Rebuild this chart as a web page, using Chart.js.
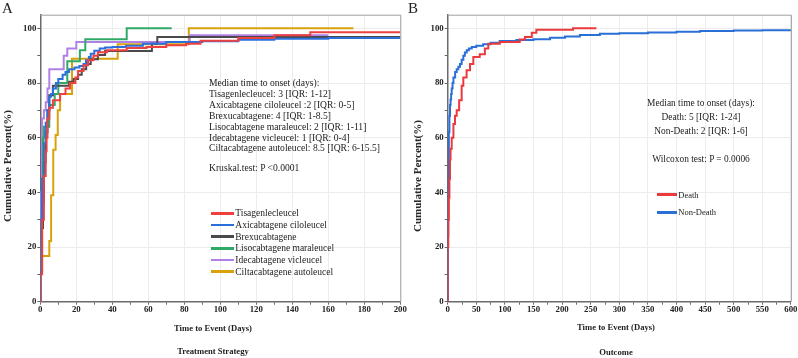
<!DOCTYPE html>
<html><head><meta charset="utf-8">
<script src="https://cdn.jsdelivr.net/npm/chart.js@4.4.1/dist/chart.umd.min.js"></script>
<style>
body{margin:0;width:798px;height:358px;background:#fff;position:relative;overflow:hidden;font-family:"Liberation Serif","Times New Roman",serif;color:#222}
.abs{position:absolute;white-space:nowrap}
canvas{position:absolute;top:0}
#cA{left:0}
#cB{left:400px}
.letter{font-size:15px;line-height:15px}
.ttl{font-weight:bold;font-size:8.6px;line-height:10px;transform:translateX(-50%)}
.ytl{font-weight:bold;font-size:11px;line-height:12px;transform:translate(-50%,-50%) rotate(-90deg)}
.legrow{position:absolute;white-space:nowrap;display:flex;align-items:center}
.legrow span.ln{display:inline-block;height:2.6px;margin-right:1px}
</style></head>
<body>
<canvas id="cA" width="410" height="358"></canvas>
<canvas id="cB" width="398" height="358"></canvas>
<div class="abs letter" style="left:2px;top:1px">A</div>
<div class="abs letter" style="left:408px;top:1px">B</div>
<div class="abs ytl" style="left:7px;top:166px">Cumulative Percent(%)</div>
<div class="abs ytl" style="left:417px;top:176px">Cumulative Percent(%)</div>
<div class="abs ttl" style="left:213px;top:323px">Time to Event (Days)</div>
<div class="abs ttl" style="left:213px;top:346px">Treatment Strategy</div>
<div class="abs ttl" style="left:616px;top:322px">Time to Event (Days)</div>
<div class="abs ttl" style="left:616px;top:347px">Outcome</div>
<div class="abs" id="annA" style="left:209px;top:78px;font-size:9.6px;line-height:10.9px"></div>
<div class="abs" id="annA2" style="left:209px;top:163px;font-size:9.6px;line-height:10.9px"></div>
<div class="abs" id="annB" style="left:701px;top:95.7px;font-size:9.4px;line-height:14px;text-align:center;transform:translateX(-50%)"></div>
<div id="legA"></div>
<div id="legB"></div>
<script>
// ---------- Panel A data (days, cumulative %) ----------
const seriesNamesA = ["Tisagenlecleucel","Axicabtagene ciloleucel","Brexucabtagene","Lisocabtagene maraleucel","Idecabtagene vicleucel","Ciltacabtagene autoleucel"];
const colorsA = ["#ef4040","#2a6fdc","#4a4a4a","#2faa66","#b080e6","#d9a10c"];

const tisaDays = [0,0,1,2,3,3.5,4,5,7,11,14,16.5,19.5,21,24,26.5,29.5,32,37,48,59,70,81,89,110,130,150,200];
const tisaPct  = [0,10,30,46,55,60,67,71,73.7,76,78,80,82,84.4,86.5,88.3,90,91.3,92,92.8,93.2,93.8,94.4,95.5,96.5,97.5,98.6,98.6];

const axiDays = [0,0,1,2,3,4,5,6,7,8.7,10,12.4,14,16,19,21.7,24,25.4,27,28,30,33,36,40,47.6,57,70,90,110,130,160,200];
const axiPct  = [0,30,45,58,65.5,70,75,76,78,80,81.5,83,84,85,85.7,86.2,87,88.3,89.5,90.7,91.8,92.6,93,93.2,93.6,94.4,95,95.3,95.8,96.2,96.5,96.8];

const brexuDays = [0,0,1,1.5,2,3,4,5,7,16,18.5,21,23,25.5,28,32,36,62,65,200];
const brexuPct  = [0,11,27,36,51,62,70,75.5,79,80.5,81.5,83,85,87,88.7,90.3,91.7,94.4,96.8,96.8];

const lisoDays = [0,0,1,1.5,2,5,8,10,15,22,25,48,73];
const lisoPct  = [0,28,40,60,64,72,76,80,88,92,96,100,100];

const ideDays = [0,0,1,2,3,4,5,13,15,20,83,160];
const idePct  = [0,40,67,70,73,78,85,90,92.6,95,97.5,97.5];

const ciltaDays = [0,0,5,6,7.2,8.5,9.7,11,17.6,43,82.5,174];
const ciltaPct  = [0,16.7,22.2,38.9,55.6,61,70,76,88.9,94.2,100,100];

// ---------- Panel B data ----------
const seriesNamesB = ["Death","Non-Death"];
const colorsB = ["#ea3a3e","#2a6fd6"];

const deathDays = [0,0,1,2,3,4,5,7,10,12.8,15.7,20,24.4,27.3,33,39,44.8,56,65,71,91,126,135,147,155,219,260];
const deathPct  = [0,20,30,38,45,52,56,60,65,68,70,73.7,79,82,84.7,87,89.5,90.5,92.6,94.4,95,95.9,96.8,98.4,99.5,100,100];

const nonDeathDays = [0,0,1,2,3,4,5,6,7,8.5,10,13,15.7,18.6,21.5,24.4,27.3,30,33.2,37,42,50,62,75,91,120,150,179,205,231,266,300,350,400,441,500,550,600];
const nonDeathPct  = [0,24,45,62,68,72,74,76,78,80,82,84,85,86,87,88.5,90,91.2,92,92.6,93.2,93.6,94.2,94.7,95.4,95.7,96,96.6,97,97.6,98,98.2,98.5,98.8,99,99.2,99.3,99.4];

// ---------- tick settings ----------
const yTicksLabelEvery = 20;
const xTicksLabelEveryA = 20;
const xTicksLabelEveryB = 50;

function pts(d, p){ return d.map((x,i)=>({x:x, y:p[i]})); }
function ds(label, color, d, p, w){
  return {label:label, data:pts(d,p), borderColor:color, backgroundColor:color, borderWidth:w, pointRadius:0, stepped:'before', fill:false, tension:0};
}

const FONT = "'Liberation Serif','Times New Roman',serif";
const framePlugin = {id:'frame', afterDatasetsDraw(chart){
  const {ctx, chartArea:a} = chart; ctx.save();
  ctx.strokeStyle='#a0a0a0'; ctx.lineWidth=1; ctx.beginPath();
  ctx.moveTo(a.left, a.top+0.5); ctx.lineTo(a.right+0.5, a.top+0.5); ctx.lineTo(a.right+0.5, a.bottom); ctx.stroke();
  ctx.restore();
}};

function makeOpts(xMax, xStep, xEvery, pad, yW, xH){
  return {
    responsive:false, animation:false, devicePixelRatio:1,
    layout:{padding:pad},
    plugins:{legend:{display:false}, tooltip:{enabled:false}},
    scales:{
      x:{type:'linear', min:0, max:xMax,
        afterFit(s){ s.height = xH; },
        ticks:{stepSize:xStep, padding:0, color:'#222', maxRotation:0, autoSkip:false,
          font:{family:FONT, size:8.8, weight:'bold'},
          callback:(v)=> (v % xEvery === 0 ? String(v) : '')},
        grid:{color:(c)=> (c.tick && c.tick.value % xEvery === 0 ? '#ececec' : 'rgba(0,0,0,0)'), tickColor:'#666', tickLength:3, lineWidth:1},
        border:{display:true, color:'#6a6a6a', width:1.5}
      },
      y:{type:'linear', min:0, max:105,
        afterFit(s){ s.width = yW; },
        ticks:{stepSize:10, includeBounds:false, padding:1, color:'#222',
          font:{family:FONT, size:8.8, weight:'bold'},
          callback:(v)=> (v % yTicksLabelEvery === 0 ? String(v) : '')},
        grid:{color:(c)=> (c.tick && c.tick.value % yTicksLabelEvery === 0 ? '#ececec' : 'rgba(0,0,0,0)'), tickColor:'#666', tickLength:3, lineWidth:1},
        border:{display:true, color:'#6a6a6a', width:1.5}
      }
    }
  };
}

const dataA = [
  [tisaDays,tisaPct],[axiDays,axiPct],[brexuDays,brexuPct],[lisoDays,lisoPct],[ideDays,idePct],[ciltaDays,ciltaPct]
];
new Chart(document.getElementById('cA'), {
  type:'line',
  data:{datasets: dataA.map((a,i)=>ds(seriesNamesA[i], colorsA[i], a[0], a[1], 2))},
  options: makeOpts(200, 10, xTicksLabelEveryA, {left:0, top:14.7, right:9.7, bottom:0}, 40.3, 56.3),
  plugins:[framePlugin]
});

const dataB = [[deathDays,deathPct],[nonDeathDays,nonDeathPct]];
new Chart(document.getElementById('cB'), {
  type:'line',
  data:{datasets: dataB.map((a,i)=>ds(seriesNamesB[i], colorsB[i], a[0], a[1], 2))},
  options: makeOpts(600, 25, xTicksLabelEveryB, {left:0, top:14.7, right:7.1, bottom:0}, 47.7, 56.3),
  plugins:[framePlugin]
});

// ---------- annotations ----------
const annALines = ["Median time to onset (days):","Tisagenlecleucel: 3 [IQR: 1-12]","Axicabtagene ciloleucel :2 [IQR: 0-5]","Brexucabtagene: 4 [IQR: 1-8.5]","Lisocabtagene maraleucel: 2 [IQR: 1-11]","Idecabtagene vicleucel: 1 [IQR: 0-4]","Ciltacabtagene autoleucel: 8.5 [IQR: 6-15.5]"];
const annATest = "Kruskal.test: P <0.0001";
const annBLines = ["Median time to onset (days):","Death: 5 [IQR: 1-24]","Non-Death: 2 [IQR: 1-6]","&nbsp;","Wilcoxon test: P = 0.0006"];
document.getElementById('annA').innerHTML = annALines.join('<br>');
document.getElementById('annA2').textContent = annATest;
document.getElementById('annB').innerHTML = annBLines.join('<br>');

function legend(el, names, colors, left, top0, step, lineW, fs){
  names.forEach((n,i)=>{
    const r = document.createElement('div'); r.className='legrow';
    r.style.left = left+'px'; r.style.top = (top0 + i*step - 7)+'px'; r.style.height='14px'; r.style.fontSize=fs+'px';
    const l = document.createElement('span'); l.className='ln'; l.style.width=lineW+'px'; l.style.background=colors[i];
    const t = document.createElement('span'); t.textContent = n;
    r.appendChild(l); r.appendChild(t); el.appendChild(r);
  });
}
legend(document.getElementById('legA'), seriesNamesA, colorsA, 210.7, 213.3, 11.68, 23.6, 9.5);
legend(document.getElementById('legB'), seriesNamesB, colorsB, 656.7, 194.7, 17.6, 20.6, 8.5);
</script>
</body></html>
